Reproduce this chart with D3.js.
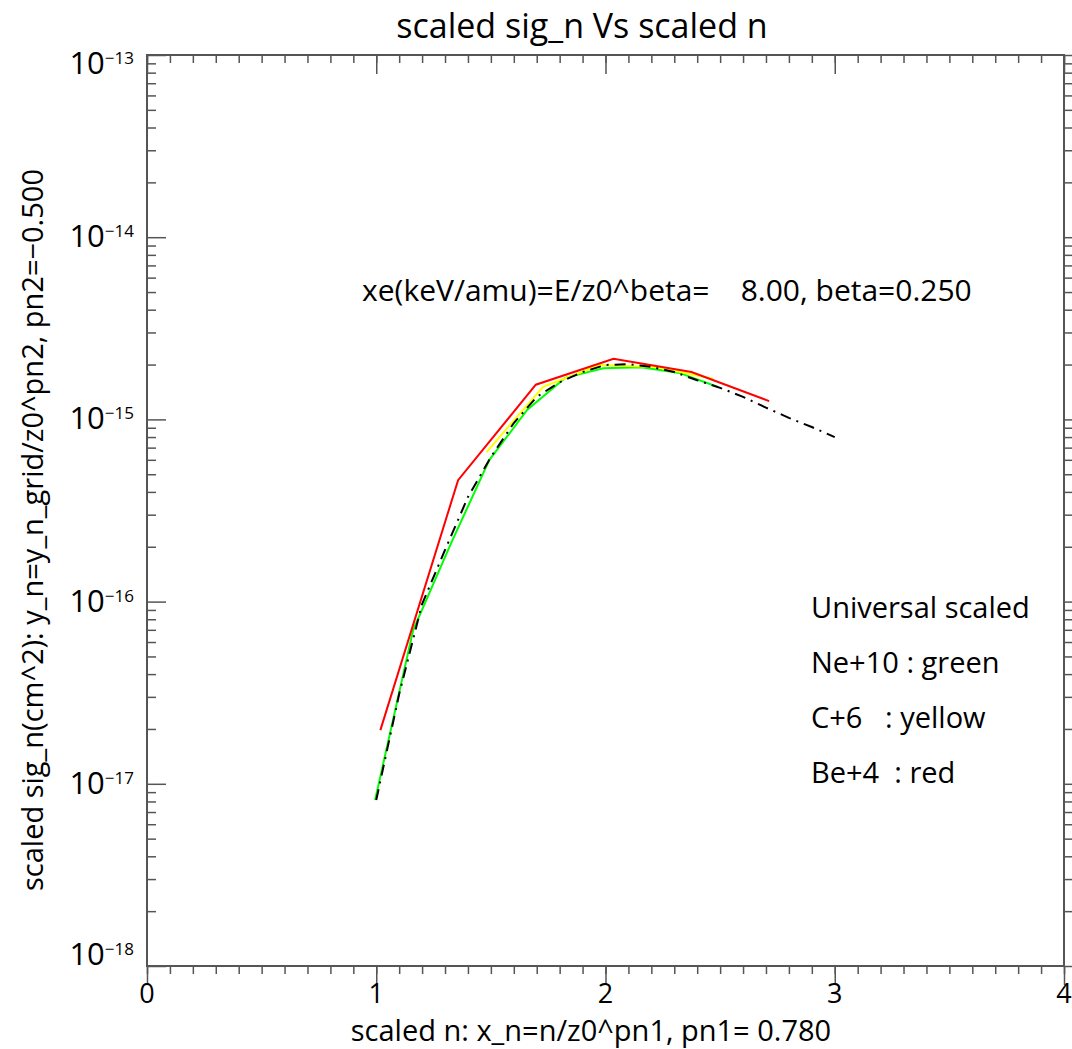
<!DOCTYPE html>
<html>
<head>
<meta charset="utf-8">
<script src="https://cdn.jsdelivr.net/npm/d3@7"></script>
<style>
  body { margin: 0; background: #fff; }
  text { font-family: "Open Sans", "Noto Sans", sans-serif; fill: #000; }
</style>
</head>
<body>
<div id="chart"></div>
<script>
// chart values
const greenX = [0.995, 1.161, 1.327, 1.493, 1.659, 1.824, 1.990, 2.156, 2.322, 2.488];
const greenY = [8.15e-18, 6.98e-17, 2.10e-16, 5.98e-16, 1.13e-15, 1.69e-15, 1.91e-15, 1.93e-15, 1.80e-15, 1.51e-15];
const yellowX = [1.481, 1.728, 1.975, 2.222, 2.469];
const yellowY = [6.62e-16, 1.51e-15, 1.99e-15, 1.94e-15, 1.67e-15];
const redX = [1.018, 1.357, 1.696, 2.035, 2.375, 2.714];
const redY = [1.97e-17, 4.64e-16, 1.55e-15, 2.15e-15, 1.82e-15, 1.26e-15];
const univX = [1.0, 1.1, 1.2, 1.3, 1.4, 1.5, 1.6, 1.7, 1.8, 1.9, 2.0, 2.1, 2.2, 2.3, 2.4, 2.5, 2.6, 2.7, 2.8, 2.9, 3.0];
const univY = [8.15e-18, 3.11e-17, 9.70e-17, 1.92e-16, 3.75e-16, 6.22e-16, 9.55e-16, 1.33e-15, 1.60e-15, 1.82e-15,
               1.99e-15, 2.01e-15, 1.94e-15, 1.82e-15, 1.64e-15, 1.49e-15, 1.33e-15, 1.16e-15, 1.02e-15, 9.08e-16, 8.00e-16];

const xTicks = [0, 1, 2, 3, 4];
const yDecades = [-18, -17, -16, -15, -14, -13];
const legendLines = ["Universal scaled", "Ne+10 : green", "C+6   : yellow", "Be+4  : red"];

const width = 1072, height = 1049;
const margin = {top: 55, right: 8, bottom: 83, left: 147};

const svg = d3.select("#chart")
  .append("svg")
  .attr("width", width)
  .attr("height", height);

const x = d3.scaleLinear()
  .domain([0, 4])
  .range([margin.left, width - margin.right]);

const y = d3.scaleLog()
  .domain([1e-18, 1e-13])
  .range([height - margin.bottom, margin.top]);

const axisColor = "#555";

// minor / major ticks
let xMinor = d3.range(0, 4.0001, 0.1).map(v => +v.toFixed(1));
let yMinor = [];
yDecades.slice(0, -1).forEach(e => {
  for (let k = 2; k <= 9; k++) yMinor.push(k * Math.pow(10, e));
});
const yMajor = yDecades.map(e => Math.pow(10, e));

// bottom & top axes
[[height - margin.bottom, d3.axisBottom, -1], [margin.top, d3.axisTop, 1]].forEach(([ty, ax, dir]) => {
  svg.append("g")
    .attr("transform", `translate(0,${ty})`)
    .call(ax(x).tickValues(xMinor).tickSize(-8 * dir).tickFormat(""))
    .call(g => g.select(".domain").remove())
    .call(g => g.selectAll("line").attr("stroke", axisColor).attr("stroke-width", 1.5));
  svg.append("g")
    .attr("transform", `translate(0,${ty})`)
    .call(ax(x).tickValues(xTicks).tickSize(-19 * dir).tickFormat(""))
    .call(g => g.select(".domain").remove())
    .call(g => g.selectAll("line").attr("stroke", axisColor).attr("stroke-width", 1.5));
});

// left & right axes
[[margin.left, d3.axisLeft, 1], [width - margin.right, d3.axisRight, -1]].forEach(([tx, ax, dir]) => {
  svg.append("g")
    .attr("transform", `translate(${tx},0)`)
    .call(ax(y).tickValues(yMinor).tickSize(-9 * dir).tickFormat(""))
    .call(g => g.select(".domain").remove())
    .call(g => g.selectAll("line").attr("stroke", axisColor).attr("stroke-width", 1.5));
  svg.append("g")
    .attr("transform", `translate(${tx},0)`)
    .call(ax(y).tickValues(yMajor).tickSize(-19 * dir).tickFormat(""))
    .call(g => g.select(".domain").remove())
    .call(g => g.selectAll("line").attr("stroke", axisColor).attr("stroke-width", 1.5));
});

// frame
svg.append("rect")
  .attr("x", margin.left)
  .attr("y", margin.top)
  .attr("width", width - margin.right - margin.left)
  .attr("height", height - margin.bottom - margin.top)
  .attr("fill", "none")
  .attr("stroke", axisColor)
  .attr("stroke-width", 2);

// x tick labels
svg.append("g").selectAll("text")
  .data(xTicks)
  .enter().append("text")
  .attr("x", d => x(d))
  .attr("y", height - margin.bottom + 37)
  .attr("text-anchor", "middle")
  .attr("font-size", 27)
  .text(d => d);

// y tick labels (10^e), end labels kept inside the frame
const yLab = svg.append("g").selectAll("text")
  .data(yDecades)
  .enter().append("text")
  .attr("x", margin.left - 13)
  .attr("y", d => {
    let py = y(Math.pow(10, d)) + 10;
    return Math.min(Math.max(py, margin.top + 19), height - margin.bottom - 1);
  })
  .attr("text-anchor", "end")
  .attr("font-size", 31);
yLab.append("tspan").text("10");
yLab.append("tspan")
  .attr("font-size", 17)
  .attr("dy", -10)
  .text(d => "\u2212" + Math.abs(d));

// title
svg.append("text")
  .attr("x", 582)
  .attr("y", 38)
  .attr("text-anchor", "middle")
  .attr("font-size", 34)
  .text("scaled sig_n Vs scaled n");

// x title
svg.append("text")
  .attr("x", 591)
  .attr("y", 1041)
  .attr("text-anchor", "middle")
  .attr("font-size", 29)
  .text("scaled n: x_n=n/z0^pn1, pn1= 0.780");

// y title
svg.append("text")
  .attr("transform", `translate(43,530) rotate(-90)`)
  .attr("text-anchor", "middle")
  .attr("font-size", 29)
  .text("scaled sig_n(cm^2): y_n=y_n_grid/z0^pn2, pn2=\u22120.500");

// annotation
svg.append("text")
  .attr("x", 362)
  .attr("y", 301)
  .attr("font-size", 30)
  .style("white-space", "pre")
  .text("xe(keV/amu)=E/z0^beta=    8.00, beta=0.250");

// legend text
svg.append("g").selectAll("text")
  .data(legendLines)
  .enter().append("text")
  .attr("x", 811)
  .attr("y", (d, i) => 618 + i * 55)
  .attr("font-size", 29)
  .style("white-space", "pre")
  .text(d => d);

// lines
const line = d3.line()
  .x(d => x(d[0]))
  .y(d => y(d[1]));

const series = [
  {xs: greenX, ys: greenY, color: "#00ff00", dash: null},
  {xs: yellowX, ys: yellowY, color: "#ffff00", dash: null},
  {xs: redX, ys: redY, color: "#ff0000", dash: null},
  {xs: univX, ys: univY, color: "#000000", dash: "11,6,2,6"}
];

series.forEach(s => {
  svg.append("path")
    .datum(d3.zip(s.xs, s.ys))
    .attr("fill", "none")
    .attr("stroke", s.color)
    .attr("stroke-width", 2)
    .attr("stroke-dasharray", s.dash)
    .attr("d", line);
});
</script>
</body>
</html>
